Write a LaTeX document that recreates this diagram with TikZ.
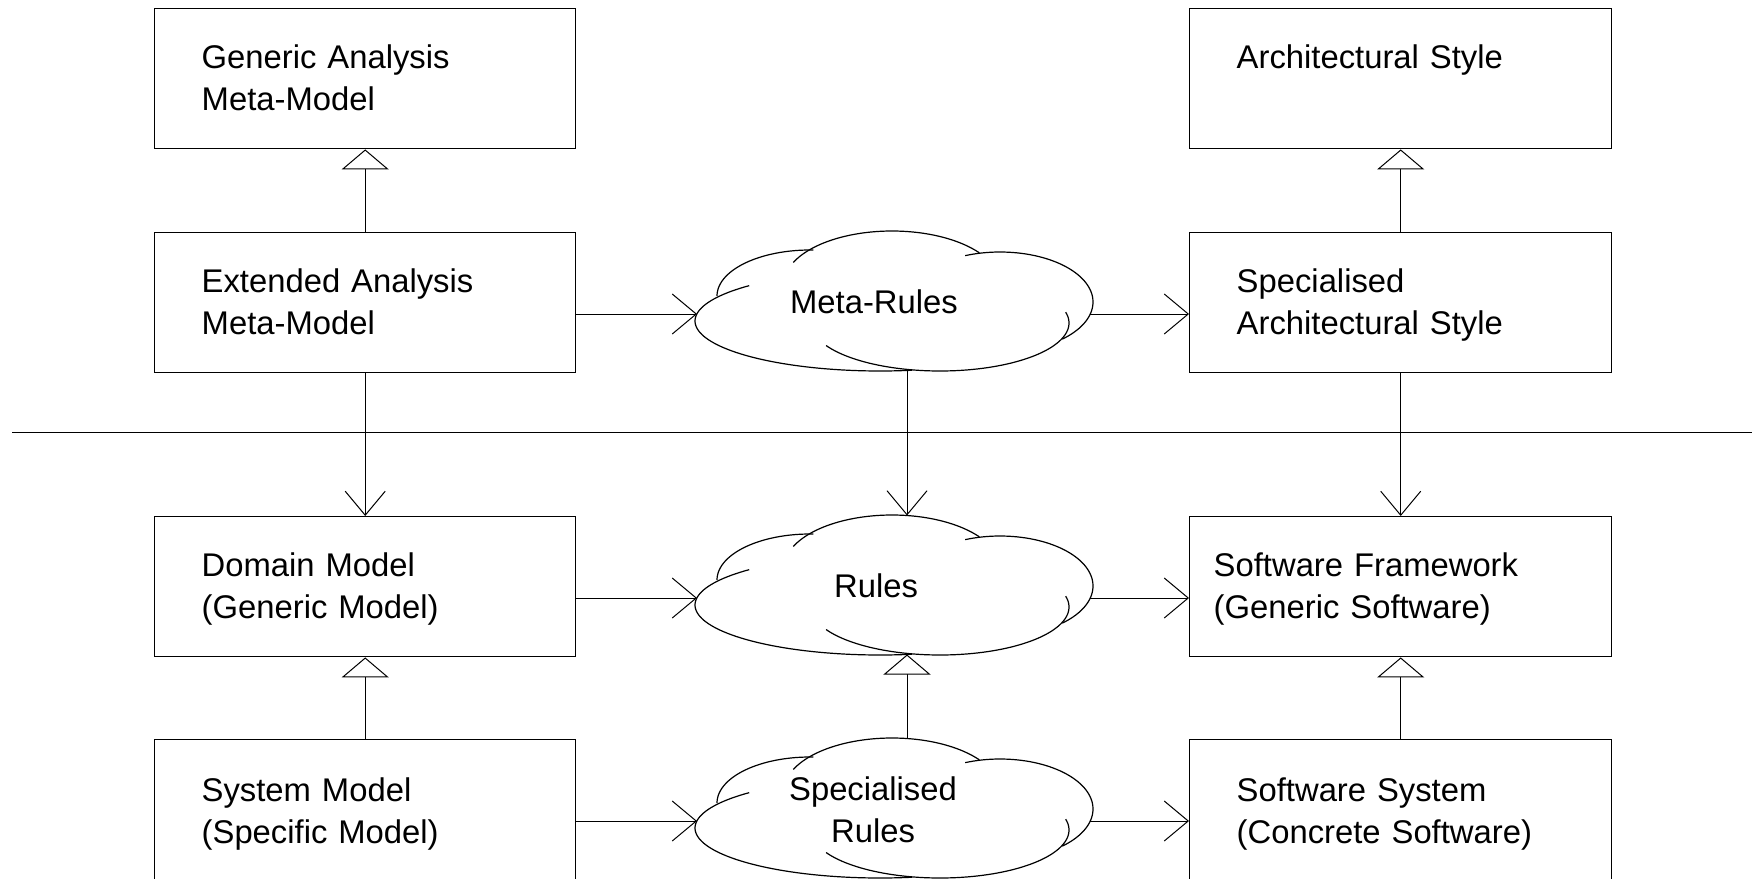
\documentclass[tikz,border=0pt]{standalone}
\usepackage{fontspec}
\setmainfont{Liberation Sans}
\usetikzlibrary{arrows.meta}
\newcommand\lst{\rule[-6pt]{0pt}{34pt}}
\newcommand\cloudlobes[1]{%
  \begin{scope}[shift={(0,#1)}]
    \draw[cloudline] plot[domain=80:225,samples=70] ({880+185*cos(\x)},{89+50*sin(\x)});
    \draw[cloudline] plot[domain=-13:152,samples=70] ({940+129*cos(\x)},{91+48*sin(\x)});
    \draw[cloudline] plot[domain=-112:48,samples=60] ({1000+93*cos(\x)},{70+50*sin(\x)});
    \draw[cloudline] plot[domain=204:324,samples=60] ({892+108*cos(\x)},{52+53*sin(\x)});
    \draw[cloudline] plot[domain=180:272,samples=50] ({810+93*cos(\x)},{64+46*sin(\x)});
  \end{scope}}
\begin{document}
\begin{tikzpicture}[x=1pt,y=-1pt,
  txt/.style={font=\fontsize{32.8pt}{42pt}\selectfont},
  box/.style={txt, draw, line width=1.4pt, rectangle, anchor=north west,
    minimum width=421pt, minimum height=140pt, inner xsep=47pt, inner ysep=0pt,
    text width=327pt, align=left},
  rbox/.style={box, minimum width=422pt, text width=328pt},
  ctext/.style={txt, align=center, inner sep=0pt},
  cloudline/.style={line width=1.2pt, line join=round},
  conn/.style={line width=1pt},
  dep/.style={conn, -{Straight Barb[length=24pt,width=40pt]}},
  gen/.style={conn, -{Triangle[open,length=20pt,width=47pt,fill=white]}}]
\useasboundingbox (0,0) rectangle (1760,878);
\clip (0,0) rectangle (1760,878);

% boxes
\node[box] (gam) at (154,8) {\lst Generic Analysis\\\lst Meta-Model};
\node[box] (ext) at (154,232) {\lst Extended Analysis\\\lst Meta-Model};
\node[box] (dom) at (154,516) {\lst Domain Model\\\lst (Generic Model)};
\node[box, minimum height=144pt] (sys) at (154,739) {\lst System Model\\\lst (Specific Model)};
\node[rbox] (as) at (1189,8) {\lst Architectural Style\\\lst};
\node[rbox] (sas) at (1189,232) {\lst Specialised\\\lst Architectural Style};
\node[rbox, inner xsep=24pt, text width=374pt] (sf) at (1189,516) {\lst Software Framework\\\lst (Generic Software)};
\node[rbox, minimum height=144pt] (ss) at (1189,739) {\lst Software System\\\lst (Concrete Software)};

% clouds
\cloudlobes{232}
\cloudlobes{516}
\cloudlobes{739}
\node[ctext] (mr) at (874,302) {\lst Meta-Rules};
\node[ctext] (ru) at (876,586) {\lst Rules};
\node[ctext] (sr) at (873,810) {\lst Specialised\\\lst Rules};

\coordinate (mrW) at (697,314);
\coordinate (mrE) at (1090,314);
\coordinate (mrS) at (907,370.5);
\coordinate (rW) at (697,598);
\coordinate (rE) at (1090,598);
\coordinate (rN) at (907,515.5);
\coordinate (rS) at (907,654.5);
\coordinate (srW) at (697,821);
\coordinate (srE) at (1090,821);
\coordinate (srN) at (907,738.5);

% separator
\coordinate (sepL) at (12,432);
\coordinate (sepR) at (1752,432);
\draw[conn] (sepL) -- (sepR);

% generalisations
\draw[gen] (ext.north) -- (gam.south);
\draw[gen] (sas.north) -- (as.south);
\draw[gen] (sys.north) -- (dom.south);
\draw[gen] (ss.north) -- (sf.south);
\draw[gen] (srN) -- (rS);

% dependencies
\draw[dep] (ext.east |- mrW) -- (mrW);
\draw[dep] (mrE) -- (sas.west |- mrE);
\draw[dep] (dom.east |- rW) -- (rW);
\draw[dep] (rE) -- (sf.west |- rE);
\draw[dep] (sys.east |- srW) -- (srW);
\draw[dep] (srE) -- (ss.west |- srE);
\draw[dep] (ext.south) -- (dom.north);
\draw[dep] (mrS) -- (rN);
\draw[dep] (sas.south) -- (sf.north);
\end{tikzpicture}
\end{document}
